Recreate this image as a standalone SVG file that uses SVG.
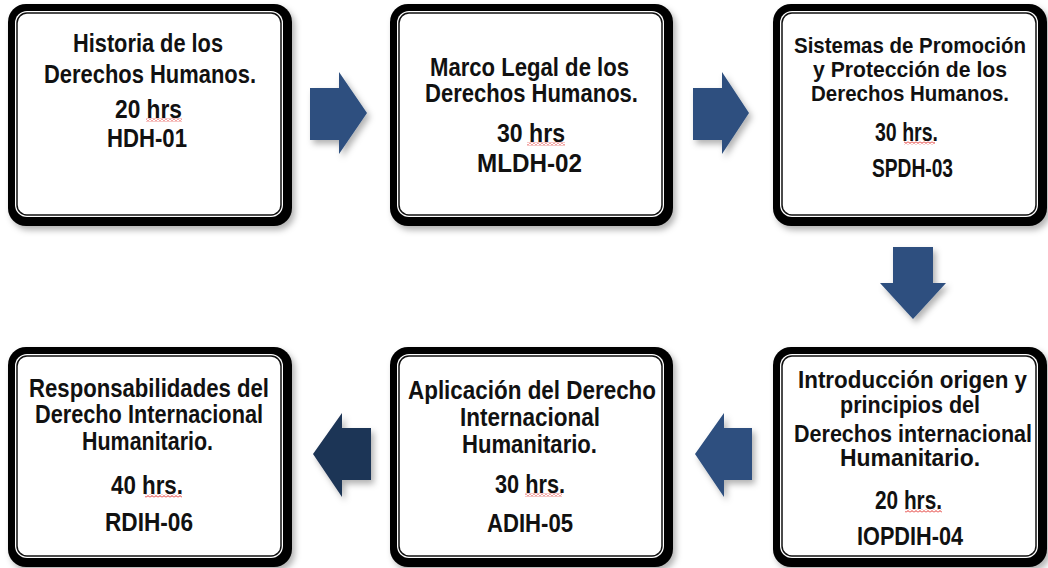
<svg xmlns="http://www.w3.org/2000/svg" width="1048" height="568" viewBox="0 0 1048 568">
<defs>
<filter id="sh" x="-10%" y="-10%" width="125%" height="125%">
<feDropShadow dx="3" dy="4" stdDeviation="3" flood-color="#000" flood-opacity="0.3"/>
</filter>
<pattern id="sq" width="4" height="3" patternUnits="userSpaceOnUse">
<path d="M0,0.6 L2,2.4 L4,0.6" fill="none" stroke="#e0201c" stroke-width="0.9"/>
</pattern>
<style>
.outer{fill:#000;}
.inner{fill:#fff;}
.line{fill:none;stroke:#111;stroke-width:1.5;}
text{font-family:"Liberation Sans",Arial,sans-serif;font-weight:bold;font-size:25px;fill:#111;text-anchor:middle;}
text.t{font-size:23px;}
text.s{font-size:22px;}
.arr{fill:#2d4f7f;filter:url(#sh);}
.arr2{fill:#1f3557;filter:url(#sh);}
.sq{fill:url(#sq);}
</style>
</defs>
<rect width="1048" height="568" fill="#fff"/>

<g id="connectors">
<path class="arr" d="M310,88 L339,88 L339,72 L367,113 L339,154 L339,140 L310,140 Z"/>
<path class="arr" d="M693,88 L722,88 L722,72 L749,113 L722,154 L722,140 L693,140 Z"/>
<path class="arr" d="M893,247 L933,247 L933,283 L946,283 L913,319 L880,283 L893,283 Z"/>
<path class="arr" d="M752,428 L724,428 L724,413 L695,454 L724,497 L724,480 L752,480 Z"/>
<path class="arr2" d="M371,428 L342,428 L342,413 L313,454 L342,497 L342,480 L371,480 Z"/>
</g>

<g id="node1">
<rect class="outer" x="8" y="4" width="284" height="222" rx="18" filter="url(#sh)"/>
<rect class="inner" x="15" y="11" width="268" height="206" rx="12"/>
<rect class="line" x="17" y="13" width="264" height="202" rx="10"/>
<text x="148" y="52" textLength="150" lengthAdjust="spacingAndGlyphs">Historia de los</text>
<text x="150" y="83" textLength="212" lengthAdjust="spacingAndGlyphs">Derechos Humanos.</text>
<text x="148.5" y="118" textLength="67" lengthAdjust="spacingAndGlyphs">20 hrs</text>
<rect class="sq" x="146" y="118.5" width="36" height="3"/>
<text x="147" y="147" textLength="80" lengthAdjust="spacingAndGlyphs">HDH-01</text>
</g>

<g id="node2">
<rect class="outer" x="390" y="4" width="283" height="222" rx="18" filter="url(#sh)"/>
<rect class="inner" x="397" y="11" width="267" height="206" rx="12"/>
<rect class="line" x="399" y="13" width="263" height="202" rx="10"/>
<text x="529.5" y="76" textLength="199" lengthAdjust="spacingAndGlyphs">Marco Legal de los</text>
<text x="531.5" y="102" textLength="213" lengthAdjust="spacingAndGlyphs">Derechos Humanos.</text>
<text x="531" y="142" textLength="68" lengthAdjust="spacingAndGlyphs">30 hrs</text>
<rect class="sq" x="527" y="142.5" width="38" height="3"/>
<text x="529.5" y="172" textLength="105" lengthAdjust="spacingAndGlyphs">MLDH-02</text>
</g>

<g id="node3">
<rect class="outer" x="773" y="4" width="274" height="222" rx="18" filter="url(#sh)"/>
<rect class="inner" x="780" y="11" width="258" height="206" rx="12"/>
<rect class="line" x="782" y="13" width="254" height="202" rx="10"/>
<text class="s" x="910" y="53" textLength="232" lengthAdjust="spacingAndGlyphs">Sistemas  de Promoción</text>
<text class="s" x="910" y="77" textLength="194" lengthAdjust="spacingAndGlyphs">y Protección  de los</text>
<text class="s" x="910" y="101" textLength="198" lengthAdjust="spacingAndGlyphs">Derechos  Humanos.</text>
<text x="906.5" y="141" textLength="63" lengthAdjust="spacingAndGlyphs">30 hrs.</text>
<rect class="sq" x="904" y="141.5" width="31" height="3"/>
<text x="912.5" y="177" textLength="81" lengthAdjust="spacingAndGlyphs">SPDH-03</text>
</g>

<g id="node4">
<rect class="outer" x="773" y="347" width="274" height="220" rx="18" filter="url(#sh)"/>
<rect class="inner" x="780" y="354" width="258" height="204" rx="12"/>
<rect class="line" x="782" y="356" width="254" height="200" rx="10"/>
<text class="t" x="912.5" y="388" textLength="229" lengthAdjust="spacingAndGlyphs">Introducción  origen y</text>
<text class="t" x="910" y="413" textLength="140" lengthAdjust="spacingAndGlyphs">principios  del</text>
<text class="t" x="913" y="442" textLength="238" lengthAdjust="spacingAndGlyphs">Derechos internacional</text>
<text class="t" x="910" y="466" textLength="140" lengthAdjust="spacingAndGlyphs">Humanitario.</text>
<text x="908.5" y="509" textLength="67" lengthAdjust="spacingAndGlyphs">20 hrs.</text>
<rect class="sq" x="905" y="509.5" width="37" height="3"/>
<text x="910" y="545" textLength="106" lengthAdjust="spacingAndGlyphs">IOPDIH-04</text>
</g>

<g id="node5">
<rect class="outer" x="390" y="347" width="283" height="220" rx="18" filter="url(#sh)"/>
<rect class="inner" x="397" y="354" width="267" height="204" rx="12"/>
<rect class="line" x="399" y="356" width="263" height="200" rx="10"/>
<text x="532" y="399" textLength="248" lengthAdjust="spacingAndGlyphs">Aplicación  del Derecho</text>
<text x="530" y="426" textLength="140" lengthAdjust="spacingAndGlyphs">Internacional</text>
<text x="529.5" y="453" textLength="135" lengthAdjust="spacingAndGlyphs">Humanitario.</text>
<text x="530" y="493" textLength="70" lengthAdjust="spacingAndGlyphs">30 hrs.</text>
<rect class="sq" x="525" y="493.5" width="37" height="3"/>
<text x="530" y="532" textLength="86" lengthAdjust="spacingAndGlyphs">ADIH-05</text>
</g>

<g id="node6">
<rect class="outer" x="8" y="347" width="284" height="220" rx="18" filter="url(#sh)"/>
<rect class="inner" x="15" y="354" width="268" height="204" rx="12"/>
<rect class="line" x="17" y="356" width="264" height="200" rx="10"/>
<text x="149" y="397" textLength="240" lengthAdjust="spacingAndGlyphs">Responsabilidades  del</text>
<text x="149" y="423" textLength="228" lengthAdjust="spacingAndGlyphs">Derecho Internacional</text>
<text x="147.5" y="450" textLength="131" lengthAdjust="spacingAndGlyphs">Humanitario.</text>
<text x="147" y="494" textLength="72" lengthAdjust="spacingAndGlyphs">40 hrs.</text>
<rect class="sq" x="145" y="494.5" width="37" height="3"/>
<text x="149" y="531" textLength="88" lengthAdjust="spacingAndGlyphs">RDIH-06</text>
</g>
</svg>
